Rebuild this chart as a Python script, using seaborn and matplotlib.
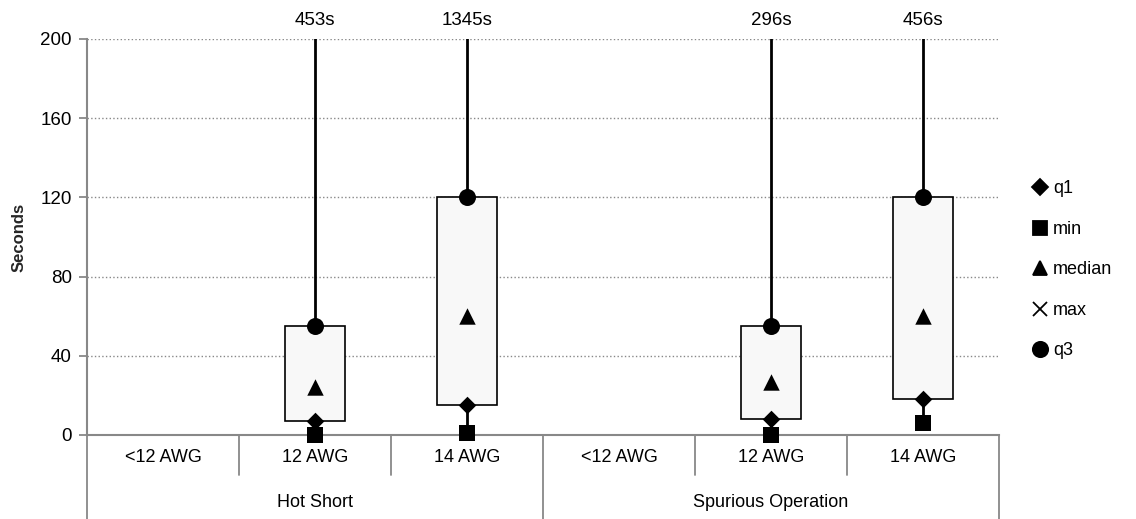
import numpy as np
import pandas as pd
import seaborn as sns
import matplotlib.pyplot as plt
from matplotlib.lines import Line2D

# data
groups = ["Hot Short", "Spurious Operation"]
sizes = ["<12 AWG", "12 AWG", "14 AWG"]
q1 = [np.nan, 7, 15, np.nan, 8, 18]
vmin = [np.nan, 0, 1, np.nan, 0, 6]
median = [np.nan, 24, 60, np.nan, 27, 60]
vmax = [np.nan, 453, 1345, np.nan, 296, 456]
q3 = [np.nan, 55, 120, np.nan, 55, 120]

sns.set_style("white")
plt.rcParams['font.family'] = ['Liberation Sans', 'DejaVu Sans']
plt.rcParams['text.color'] = 'black'
plt.rcParams['ytick.color'] = '#888888'
plt.rcParams['ytick.labelcolor'] = 'black'

xpos = np.arange(6) + 0.5
df = pd.DataFrame({'x': xpos, 'q1': q1, 'min': vmin, 'median': median, 'max': vmax, 'q3': q3})
long = df.melt(id_vars='x', var_name='stat', value_name='val').dropna()

fig = plt.figure(figsize=(11.36, 5.19), dpi=100)
ax = fig.add_axes([0.0766, 0.1619, 0.8028, 0.7630])

# boxes q1..q3
ok = df.dropna()
ax.bar(ok['x'], ok['q3'] - ok['q1'], bottom=ok['q1'], width=0.4,
       color='#f8f8f8', edgecolor='black', linewidth=1.2, zorder=2)
# whiskers min..max
ax.vlines(ok['x'], ok['min'], ok['max'], color='black', linewidth=2, zorder=1)

mk = {'q1': 'D', 'min': 's', 'median': '^', 'max': 'x', 'q3': 'o'}
sz = {'q1': 80, 'min': 140, 'median': 140, 'max': 120, 'q3': 150}
for st in ['q1', 'min', 'median', 'q3']:
    sub = long[long['stat'] == st]
    sns.scatterplot(data=sub, x='x', y='val', marker=mk[st], s=sz[st], color='black',
                    edgecolor='black', linewidth=0, ax=ax, zorder=3, clip_on=False, legend=False)

# max labels above
for x, m in zip(ok['x'], ok['max']):
    ax.text(x, 205, f"{int(m)}s", ha='center', va='bottom', fontsize=13.5)

ax.set_xlim(0, 6)
ax.set_ylim(0, 200)
ax.set_yticks([0, 40, 80, 120, 160, 200])
ax.tick_params(axis='y', labelsize=13.5, length=6, width=1.3, pad=5, left=True)
ax.set_xticks([])
ax.set_xlabel('')
ax.set_ylabel('Seconds', fontsize=12, fontweight='bold', labelpad=10)
ax.yaxis.grid(True, linestyle=':', color='#888888', linewidth=1)
for s in ['top', 'right']:
    ax.spines[s].set_visible(False)
for s in ['left', 'bottom']:
    ax.spines[s].set_color('#888888')
    ax.spines[s].set_linewidth(1.5)

# two-level category axis
trans = ax.get_xaxis_transform()
for i in range(7):
    if i % 3 == 0:
        ax.plot([i, i], [0, -0.245], transform=trans, color='#888888', lw=1.3, clip_on=False)
    else:
        ax.plot([i, i], [0, -0.1], transform=trans, color='#888888', lw=1.3, clip_on=False)
for i in range(6):
    ax.text(i + 0.5, -0.056, sizes[i % 3], transform=trans, ha='center', va='center', fontsize=13)
for g, gname in enumerate(groups):
    ax.text(g * 3 + 1.5, -0.17, gname, transform=trans, ha='center', va='center', fontsize=13)

handles = [Line2D([], [], marker=mk[st], color='black', linestyle='', markersize=ms, markeredgewidth=1.3)
           for st, ms in zip(['q1', 'min', 'median', 'max', 'q3'], [8, 10, 10, 10, 11])]
fig.legend(handles, ['q1', 'min', 'median', 'max', 'q3'], loc='center left',
           bbox_to_anchor=(0.895, 0.48), frameon=False, fontsize=13, labelspacing=1.3,
           handlelength=0.8, handletextpad=0.3)

fig.savefig('out.png', dpi=100)
